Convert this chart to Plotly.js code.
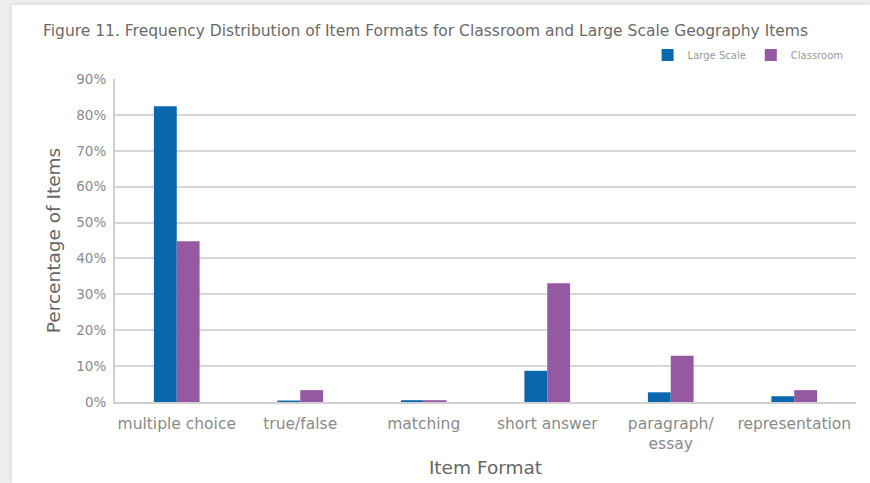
<!DOCTYPE html>
<html>
<head>
<meta charset="utf-8">
<script src="https://cdn.plot.ly/plotly-3.0.1.min.js"></script>
<style>
  html, body { margin: 0; padding: 0; background: #efefef; width: 870px; height: 483px; overflow: hidden; }
  #chart { position: absolute; left: 12px; top: 5px; width: 858px; height: 478px; background: #fff; box-shadow: 0 0 6px rgba(0,0,0,0.12); }
</style>
</head>
<body>
<div id="chart"></div>
<script>
const categories = ["multiple choice", "true/false", "matching", "short answer", "paragraph/<br>essay", "representation"];
const largeScale = [82.4, 0.4, 0.5, 8.7, 2.7, 1.6];
const classroom = [44.8, 3.3, 0.5, 33.1, 12.9, 3.3];
const seriesNames = ["Large Scale", "Classroom"];
const yTickVals = [0, 10, 20, 30, 40, 50, 60, 70, 80, 90];
const yTickText = ["0%", "10%", "20%", "30%", "40%", "50%", "60%", "70%", "80%", "90%"];

const FONT = "DejaVu Sans, Open Sans, sans-serif";

const traces = [
  { type: "bar", name: seriesNames[0], x: categories, y: largeScale,
    marker: { color: "#0a67ac" }, hoverinfo: "x+y" },
  { type: "bar", name: seriesNames[1], x: categories, y: classroom,
    marker: { color: "#9558a3" }, hoverinfo: "x+y" }
];

const layout = {
  width: 858, height: 478,
  margin: { l: 103, r: 14, t: 74, b: 81 },
  paper_bgcolor: "#ffffff", plot_bgcolor: "#ffffff",
  font: { family: FONT, color: "#888" },
  barmode: "group", bargap: 0.63, bargroupgap: 0,
  title: {
    text: "Figure 11. Frequency Distribution of Item Formats for Classroom and Large Scale Geography Items",
    font: { family: FONT, size: 15.5, color: "#6a6a6a" },
    xref: "container", x: 31 / 858, xanchor: "left",
    yref: "container", y: 1 - 26 / 478, yanchor: "middle"
  },
  showlegend: true,
  legend: {
    orientation: "h", x: 0.99, xanchor: "right", y: 1.074, yanchor: "middle",
    font: { family: FONT, size: 10, color: "#999" },
    itemwidth: 30, traceorder: "normal", bgcolor: "rgba(0,0,0,0)"
  },
  xaxis: {
    type: "category",
    showgrid: false, zeroline: false,
    showline: true, linecolor: "#d0d0d0", linewidth: 2,
    ticks: "", ticklabelstandoff: 6,
    tickfont: { family: FONT, size: 15.5, color: "#8a8a8a" },
    title: { text: "Item Format", font: { family: FONT, size: 18.5, color: "#666" }, standoff: 9 }
  },
  yaxis: {
    range: [0, 90],
    tickvals: yTickVals, ticktext: yTickText,
    showgrid: true, gridcolor: "#d6d6d6", gridwidth: 2,
    zeroline: false,
    showline: true, linecolor: "#d0d0d0", linewidth: 2,
    ticks: "", ticklabelstandoff: 4,
    tickfont: { family: FONT, size: 13.5, color: "#8a8a8a" },
    title: { text: "Percentage of Items", font: { family: FONT, size: 18.5, color: "#666" }, standoff: 11 }
  }
};

Plotly.newPlot("chart", traces, layout, { displayModeBar: false, staticPlot: true });
</script>
</body>
</html>
